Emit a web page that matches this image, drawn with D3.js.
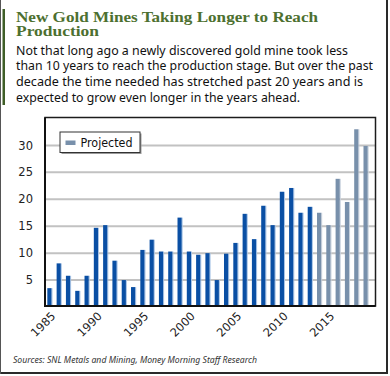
<!DOCTYPE html>
<html>
<head>
<meta charset="utf-8">
<script src="https://cdn.jsdelivr.net/npm/d3@7"></script>
<style>
  html, body { margin: 0; padding: 0; background: #fff; }
  svg { display: block; }
</style>
</head>
<body>
<svg width="390" height="376"></svg>
<script>
var years = d3.range(1985, 2020);
var actualYears = d3.range(1985, 2014);
var actualValues = [3.5, 8.1, 5.8, 3.0, 5.8, 14.7, 15.2, 8.6, 5.0, 3.7,
  10.6, 12.5, 10.3, 10.3, 16.6, 10.3, 9.7, 10.0, 5.0, 9.9,
  11.9, 17.3, 12.6, 18.8, 15.2, 21.4, 22.1, 17.5, 18.6];
var projectedYears = [2014, 2015, 2016, 2017, 2018, 2019];
var projectedValues = [17.5, 15.2, 23.8, 19.5, 33.0, 29.9];
var yTicks = [5, 10, 15, 20, 25, 30];
var xTickLabels = [1985, 1990, 1995, 2000, 2005, 2010, 2015];

var titleLines = ["New Gold Mines Taking Longer to Reach", "Production"];
var bodyLines = [
  "Not that long ago a newly discovered gold mine took less",
  "than 10 years to reach the production stage. But over the past",
  "decade the time needed has stretched past 20 years and is",
  "expected to grow even longer in the years ahead."
];
var sourceText = "Sources: SNL Metals and Mining, Money Morning Staff Research";

var svg = d3.select("svg");

var actual = actualYears.map(function (y, i) { return { year: y, value: actualValues[i], proj: false }; });
var projected = projectedYears.map(function (y, i) { return { year: y, value: projectedValues[i], proj: true }; });
var all = actual.concat(projected);

// outer frame
svg.append("line").attr("x1", 387).attr("y1", 0).attr("x2", 387).attr("y2", 374)
  .style("stroke", "#2a2a2a").style("stroke-width", 2);
svg.append("line").attr("x1", 0).attr("y1", 373).attr("x2", 388).attr("y2", 373)
  .style("stroke", "#2a2a2a").style("stroke-width", 2);
svg.append("line").attr("x1", 0.5).attr("y1", 0).attr("x2", 0.5).attr("y2", 374)
  .style("stroke", "#555").style("stroke-width", 1);
svg.append("rect").attr("x", 2.5).attr("y", 9).attr("width", 2.5).attr("height", 96)
  .attr("fill", "#3f5e27");

// title + intro text
svg.selectAll(".title")
  .data(titleLines)
  .enter()
  .append("text")
  .attr("class", "title")
  .attr("x", 16)
  .attr("y", function (d, i) { return 22 + i * 13.5; })
  .attr("textLength", function (d, i) { return i === 0 ? 302 : 83; })
  .attr("lengthAdjust", "spacingAndGlyphs")
  .style("font-family", "'Liberation Serif', serif")
  .style("font-weight", "bold")
  .style("font-size", "15.5px")
  .style("fill", "#4d7030")
  .text(function (d) { return d; });

var bodyWidths = [332, 357, 347, 284];
svg.selectAll(".body")
  .data(bodyLines)
  .enter()
  .append("text")
  .attr("class", "body")
  .attr("x", 16)
  .attr("y", function (d, i) { return 54.5 + i * 15.7; })
  .attr("textLength", function (d, i) { return bodyWidths[i]; })
  .attr("lengthAdjust", "spacingAndGlyphs")
  .style("font-family", "'Noto Sans', sans-serif")
  .style("font-size", "12.5px")
  .style("fill", "#111")
  .text(function (d) { return d; });

// scales
var x = d3.scaleBand().domain(years).range([45, 370]).paddingInner(0.55).paddingOuter(0.25);
var y = d3.scaleLinear().domain([0, 35]).range([307, 118.5]);

var plot = { left: 45, right: 375.5, top: 117.5, bottom: 306 };

// gridlines
svg.append("g")
  .selectAll("line")
  .data(yTicks)
  .enter()
  .append("line")
  .attr("x1", plot.left)
  .attr("x2", plot.right)
  .attr("y1", function (d) { return y(d); })
  .attr("y2", function (d) { return y(d); })
  .style("stroke", "#c2c2c2")
  .style("stroke-width", 2);

// bars, with a thin light edge on the right
var bars = svg.append("g").selectAll("g").data(all).enter().append("g");
bars.append("rect")
  .attr("x", function (d) { return x(d.year) + x.bandwidth(); })
  .attr("width", 1)
  .attr("y", function (d) { return y(d.value); })
  .attr("height", function (d) { return plot.bottom - y(d.value); })
  .attr("fill", function (d) { return d.proj ? "#c9d3de" : "#a8c4e6"; });
bars.append("rect")
  .attr("x", function (d) { return x(d.year); })
  .attr("width", x.bandwidth())
  .attr("y", function (d) { return y(d.value); })
  .attr("height", function (d) { return plot.bottom - y(d.value); })
  .attr("fill", function (d) { return d.proj ? "#7890ab" : "#0a4fa4"; });

// plot frame
svg.append("rect")
  .attr("x", plot.left).attr("y", plot.top)
  .attr("width", plot.right - plot.left).attr("height", plot.bottom - plot.top)
  .attr("fill", "none")
  .style("stroke", "#1c1c1c").style("stroke-width", 1.5);
svg.append("line").attr("x1", plot.left).attr("x2", plot.left).attr("y1", plot.top).attr("y2", plot.bottom + 1)
  .style("stroke", "#111").style("stroke-width", 2);
svg.append("line").attr("x1", plot.left).attr("x2", plot.right).attr("y1", plot.bottom).attr("y2", plot.bottom)
  .style("stroke", "#111").style("stroke-width", 2);

// y axis labels
svg.append("g")
  .selectAll("text")
  .data(yTicks)
  .enter()
  .append("text")
  .attr("x", 33)
  .attr("y", function (d) { return y(d); })
  .attr("dy", "0.36em")
  .attr("text-anchor", "end")
  .style("font-family", "'DejaVu Sans', sans-serif")
  .style("font-size", "11.5px")
  .style("fill", "#222")
  .text(function (d) { return d; });

// x axis labels, rotated
svg.append("g")
  .selectAll("text")
  .data(xTickLabels)
  .enter()
  .append("text")
  .attr("transform", function (d) {
    return "translate(" + (x(d) + x.bandwidth() / 2 + 4) + ",314) rotate(-45)";
  })
  .attr("dy", "0.35em")
  .attr("text-anchor", "end")
  .style("font-family", "'DejaVu Sans', sans-serif")
  .style("font-size", "11.5px")
  .style("fill", "#222")
  .text(function (d) { return d; });

// legend
var legend = svg.append("g").attr("transform", "translate(60,132)");
legend.append("rect").attr("x", 1.5).attr("y", 1.5).attr("width", 80).attr("height", 20.5).attr("fill", "#999");
legend.append("rect").attr("width", 80).attr("height", 20.5)
  .attr("fill", "#fff").style("stroke", "#333").style("stroke-width", 1);
legend.append("rect").attr("x", 5.5).attr("y", 8.5).attr("width", 10).attr("height", 4.5).attr("fill", "#7890ab");
legend.append("text").attr("x", 20.5).attr("y", 14.5)
  .attr("textLength", 52).attr("lengthAdjust", "spacingAndGlyphs")
  .style("font-family", "'DejaVu Sans', sans-serif")
  .style("font-size", "11.5px")
  .style("fill", "#111")
  .text("Projected");

// source note
svg.append("text")
  .attr("x", 13)
  .attr("y", 363)
  .attr("textLength", 244)
  .attr("lengthAdjust", "spacingAndGlyphs")
  .style("font-family", "'Noto Sans', sans-serif")
  .style("font-style", "italic")
  .style("font-size", "9px")
  .style("fill", "#333")
  .text(sourceText);
</script>
</body>
</html>
